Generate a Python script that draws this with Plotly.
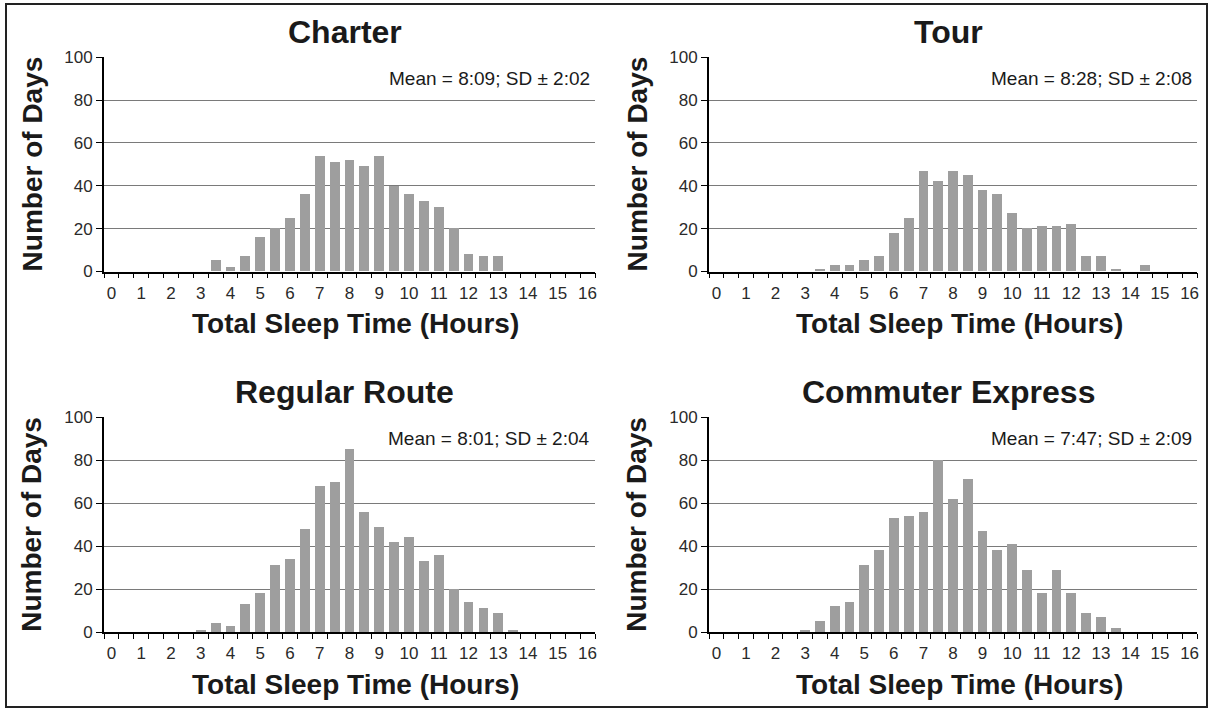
import plotly.graph_objects as go

W, H = 1211, 710

hours = [0, 0.5, 1, 1.5, 2, 2.5, 3, 3.5, 4, 4.5, 5, 5.5, 6, 6.5, 7, 7.5, 8, 8.5,
         9, 9.5, 10, 10.5, 11, 11.5, 12, 12.5, 13, 13.5, 14, 14.5, 15, 15.5, 16]

charter = [0, 0, 0, 0, 0, 0, 0, 5, 2, 7, 16, 20, 25, 36, 54, 51, 52, 49,
           54, 40, 36, 33, 30, 20, 8, 7, 7, 0, 0, 0, 0, 0, 0]
tour = [0, 0, 0, 0, 0, 0, 0, 1, 3, 3, 5, 7, 18, 25, 47, 42, 47, 45,
        38, 36, 27, 20, 21, 21, 22, 7, 7, 1, 0, 3, 0, 0, 0]
regular = [0, 0, 0, 0, 0, 0, 1, 4, 3, 13, 18, 31, 34, 48, 68, 70, 85, 56,
           49, 42, 44, 33, 36, 20, 14, 11, 9, 1, 0, 0, 0, 0, 0]
commuter = [0, 0, 0, 0, 0, 0, 1, 5, 12, 14, 31, 38, 53, 54, 56, 80, 62, 71,
            47, 38, 41, 29, 18, 29, 18, 9, 7, 2, 0, 0, 0, 0, 0]

panel_titles = ["Charter", "Tour", "Regular Route", "Commuter Express"]
stats_text = ["Mean = 8:09; SD \u00b1 2:02", "Mean = 8:28; SD \u00b1 2:08",
              "Mean = 8:01; SD \u00b1 2:04", "Mean = 7:47; SD \u00b1 2:09"]
x_tick_vals = list(range(0, 17))
x_tick_text = [str(v) for v in x_tick_vals]
y_tick_vals = [0, 20, 40, 60, 80, 100]
x_title = "Total Sleep Time (Hours)"
y_title = "Number of Days"

FONT = "Liberation Sans, Arial, sans-serif"


def px(x):
    return x / W


def py(y):
    return 1 - y / H


# pixel boxes: (left, right, top, bottom)
boxes = [(104, 595, 57.3, 271.5), (709, 1197, 57.3, 271.5),
         (104, 595, 417.3, 632.3), (709, 1197, 417.3, 632.3)]
series = [charter, tour, regular, commuter]

fig = go.Figure()
annotations = []
for i, (vals, box) in enumerate(zip(series, boxes)):
    n = "" if i == 0 else str(i + 1)
    fig.add_trace(go.Bar(x=hours, y=vals, width=0.33,
                         marker=dict(color="#9e9e9e", line=dict(width=0)),
                         xaxis="x" + n, yaxis="y" + n, showlegend=False))
    l, r, t, b = box
    fig.layout["xaxis" + n] = dict(
        domain=[px(l), px(r)], anchor="y" + n, range=[-0.25, 16.25],
        tickmode="array", tickvals=x_tick_vals, ticktext=x_tick_text,
        ticks="outside", ticklen=5, tickcolor="rgba(0,0,0,0)",
        showline=True, linecolor="black", linewidth=1.5,
        showgrid=False, zeroline=False, automargin=False,
        minor=dict(ticks="outside", tickmode="linear", tick0=-0.25, dtick=0.5,
                   ticklen=5, tickcolor="black", tickwidth=1.2, showgrid=False),
        tickfont=dict(family=FONT, size=17, color="#2a2a2a"))
    fig.layout["yaxis" + n] = dict(
        domain=[py(b), py(t)], anchor="x" + n, range=[0, 100],
        tickmode="array", tickvals=y_tick_vals,
        ticks="outside", ticklen=6, tickcolor="black", tickwidth=1.2,
        showline=True, linecolor="black", linewidth=1.8, automargin=False,
        showgrid=True, gridcolor="#7a7a7a", gridwidth=1, zeroline=False,
        tickfont=dict(family=FONT, size=17, color="#2a2a2a"))
    cx = (l + r) / 2
    # panel title
    annotations.append(dict(text="<b>%s</b>" % panel_titles[i], x=px(cx - 5),
                            y=py(t - 25), xref="paper", yref="paper",
                            xanchor="center", yanchor="middle", showarrow=False,
                            font=dict(family=FONT, size=32, color="#1a1a1a")))
    # stats
    annotations.append(dict(text=stats_text[i], x=px(r - 3), y=py(t + 21),
                            xref="paper", yref="paper", xanchor="right",
                            yanchor="middle", showarrow=False,
                            font=dict(family=FONT, size=19, color="#1a1a1a")))
    # x title
    annotations.append(dict(text="<b>%s</b>" % x_title, x=px(cx + 6),
                            y=py(b + 52), xref="paper", yref="paper",
                            xanchor="center", yanchor="middle", showarrow=False,
                            font=dict(family=FONT, size=28, color="#1a1a1a")))
    # y title
    annotations.append(dict(text="<b>%s</b>" % y_title, x=px(l - 72),
                            y=py((t + b) / 2), xref="paper", yref="paper",
                            xanchor="center", yanchor="middle", textangle=-90,
                            showarrow=False,
                            font=dict(family=FONT, size=28, color="#1a1a1a")))

fig.update_layout(
    width=W, height=H, autosize=False,
    margin=dict(l=0, r=0, t=0, b=0, pad=0, autoexpand=False),
    paper_bgcolor="white", plot_bgcolor="white",
    bargap=0, annotations=annotations,
    shapes=[dict(type="rect", xref="paper", yref="paper",
                 x0=px(6), x1=px(1207), y0=py(707), y1=py(4),
                 line=dict(color="#222", width=2))])

fig.write_html("out.html", config={"displayModeBar": False},
               post_script="document.body.style.margin='0';"
                           "document.body.style.overflow='hidden';")
